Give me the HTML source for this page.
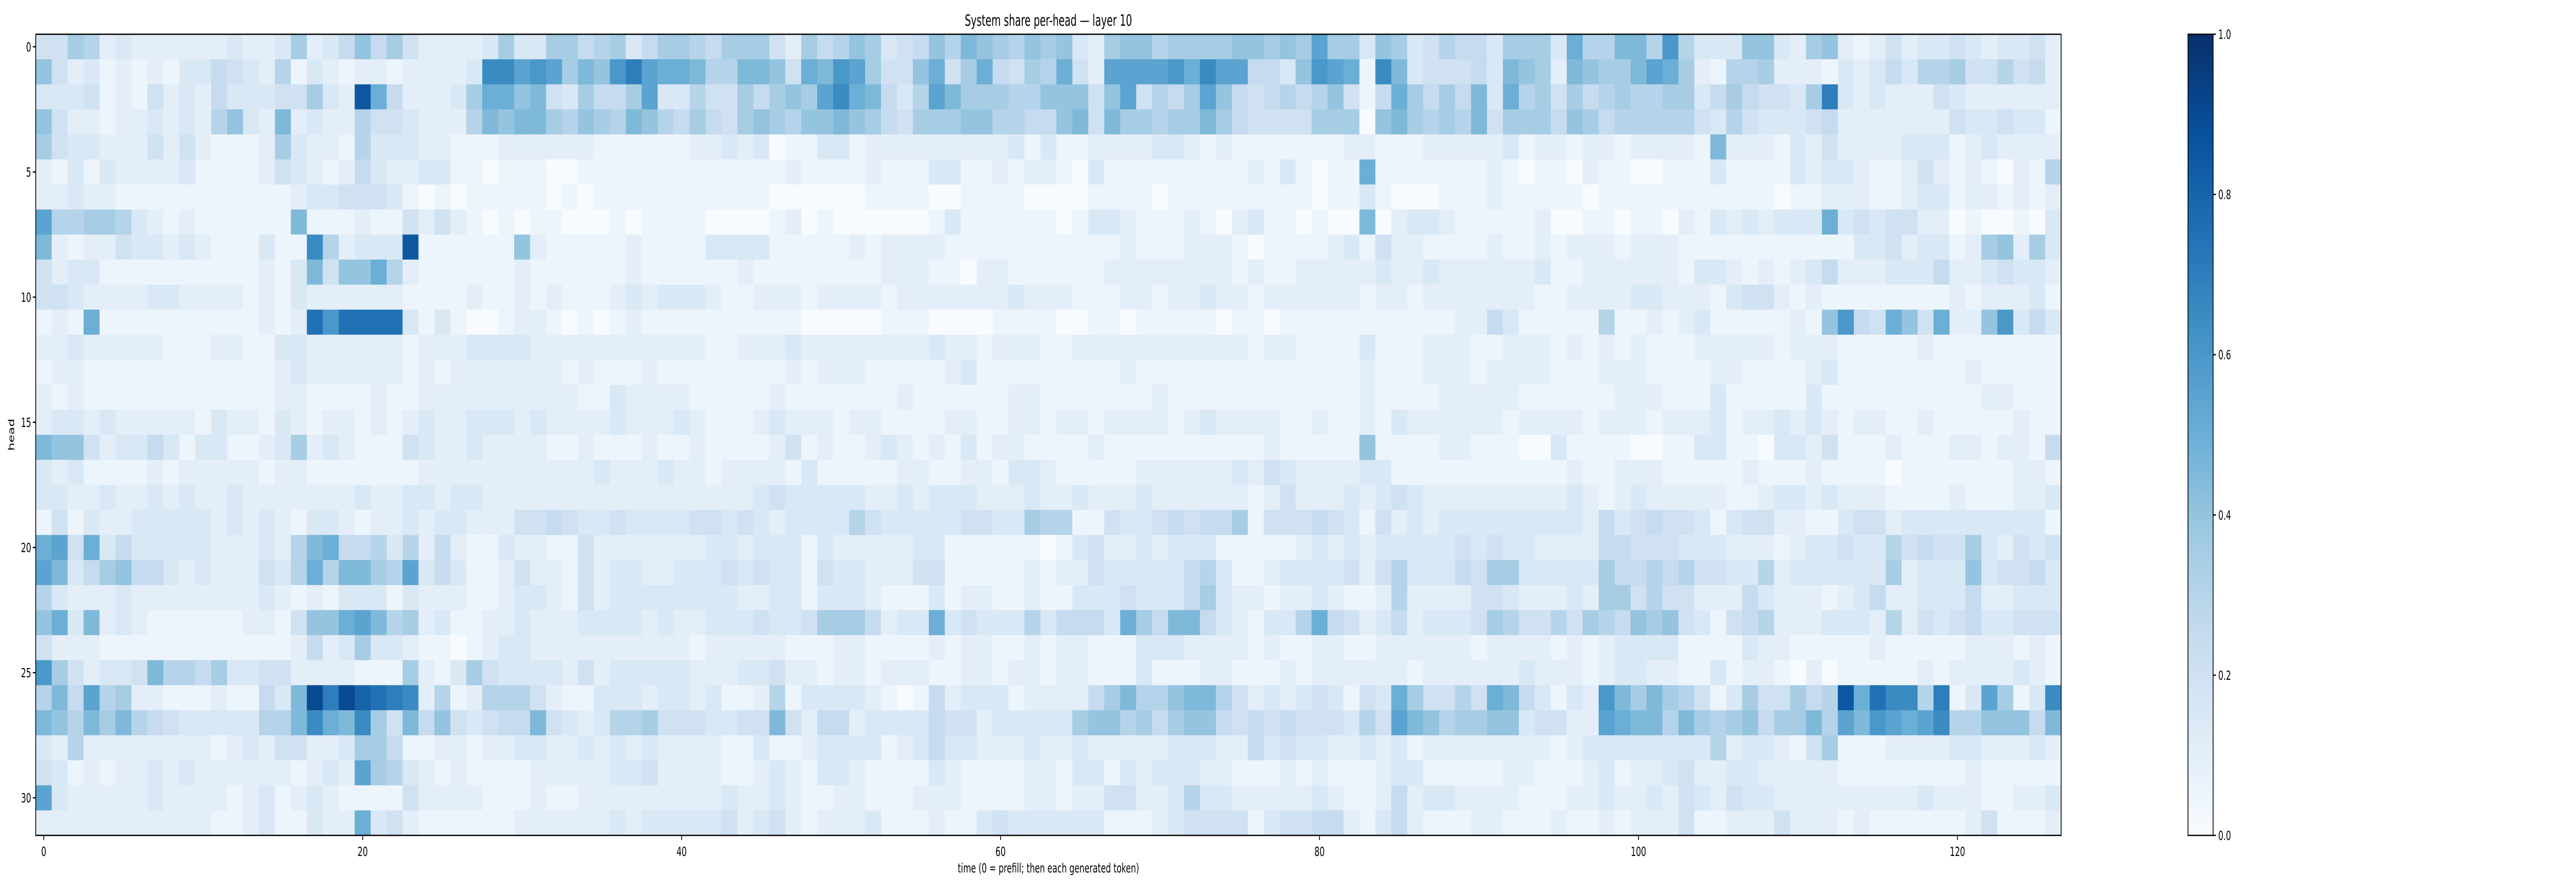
<!DOCTYPE html>
<html>
<head>
<meta charset="utf-8">
<style>
  html,body{margin:0;padding:0;background:#ffffff;width:100%;height:100%;overflow:hidden;}
  svg{display:block;width:100vw;height:100vh;}
  text{font-family:"DejaVu Sans","Liberation Sans",sans-serif;fill:#000;}
</style>
</head>
<body>
<svg id="chart" viewBox="0 0 8000 1728" preserveAspectRatio="none" xmlns="http://www.w3.org/2000/svg">
  <rect x="0" y="0" width="8000" height="1728" fill="#ffffff"/>
  <text x="3256" y="50" font-size="30" text-anchor="middle">System share per-head — layer 10</text>
  <text x="3256" y="1694" font-size="25" text-anchor="middle">time (0 = prefill; then each generated token)</text>
  <text x="0" y="0" font-size="25" text-anchor="middle" transform="translate(44,844) rotate(-90)">head</text>
  <g id="cells"></g>
  <g id="axes"></g>
  <defs>
    <linearGradient id="cbgrad" x1="0" y1="1" x2="0" y2="0">
      <stop offset="0" stop-color="#f7fbff"/>
      <stop offset="0.125" stop-color="#deebf7"/>
      <stop offset="0.25" stop-color="#c6dbef"/>
      <stop offset="0.375" stop-color="#9ecae1"/>
      <stop offset="0.5" stop-color="#6baed6"/>
      <stop offset="0.625" stop-color="#4292c6"/>
      <stop offset="0.75" stop-color="#2171b5"/>
      <stop offset="0.875" stop-color="#08519c"/>
      <stop offset="1" stop-color="#08306b"/>
    </linearGradient>
  </defs>
  <g id="colorbar"></g>
</svg>
<script>
// ---- data: each char = value step of 0.05 (0..k => 0..1.0) ----
const codeScale = "0123456789abcdefghijk";
const timeTicks = [0, 20, 40, 60, 80, 100, 120];
const headTicks = [0, 5, 10, 15, 20, 25, 30];
const cbarTicks = [0.0, 0.2, 0.4, 0.6, 0.8, 1.0];
const cbarLabels = ["0.0", "0.2", "0.4", "0.6", "0.8", "1.0"];
// columns 0-15
const colsA = ["4476232222223223","8423121213354326","3334121423253334","8422122323268329","7433222424211127","2131322223111124","2232211111111111","b667763212111111","9212243323211131","4233111111111121","4432222332222121","121a111111111121","2232222211122113","1221111111111112","2121111111111112","2332322222132213","9884233531331123","3231111212222212","3322322323223222","1413223333323232","ab4a353333322232","b935785532322243","6322232222222232","8a39232111111221","4222111111111111","c742334966573344","695b672211121153","9869796543333366","3262222222212324","4312122323222222","b322222322221231","2222222222211231"];
// columns 16-31
const colsB = ["7235857422223733","132122122223ddbc","4732ha522237aa89","2322644322269899","3221633322111222","3212532233110111","2334443101011111","9111211424210101","1d62333h11111182","39488a6211111121","3222222111121121","2fcffff313100122","3222222122233332","3222222121222222","2111121122222222","2122121232233323","7232111432232222","2111111122222222","2222322332332222","1332122323322244","69a5563625211322","6a69976b35311242","1213331322211233","488ab96723112232","2523733211012332","2222111721374333","9ieigfed26126664","9da9d74958434559","4223775112212233","1232b76321211112","2321111422221112","1322a34211111122"];
// columns 32-47
const colsC = ["7756735776577742","b798cebaa9669984","437557b336447578","7687698657547876","2221111112232301","0011111111111112","0101111111111100","1000101111000012","1111121111333311","1111121111112111","2111232333211222","1010121111111111","2222222222112223","2121112111111112","2211322221111121","2222322232111232","1121112112111124","2223222322122221","2222222222222343","5433433334434323","1142222222332333","2142332233343433","2142333333332233","2233332322333433","2222222221222221","3242333332223342","2113332332311261","4323667444334494","2232323222211311","2222334222211232","1122222222232232","2222323333342342"];
// columns 48-63
const colsD = ["7568734586987687","a9cb7448a47a5476","7bda9536b9777668","8898754777886655","1331222222222313","1111211133112122","0000111100111100","0100000013111111","1112122221111111","1111122211022111","1222212222222322","0000011100001111","2222222232212221","1222111112311111","1111112111111221","2212211112211221","1211232121312211","3111112211221332","3333223233322232","3336433333443376","1322222331111110","1433222441111121","1333211131221121","47775233a3433363","1122111121221121","2122122211221221","3333210152333122","2552333354423333","2333312353322232","1332111132111122","1122111222111122","1222311121134333"];
// columns 64-79
const colsE = ["8327886777788787","a42bbbbcadbb5538","8848b4657b854565","8949776779754444","1122223321211111","1031111111112131","0011110111111111","0133211121023110","1111211122210111","1112222222212112","2111221223221222","0011011111011011","1222222222221221","1111211111111111","1111112111111111","2212222123222211","1121111111111211","1111122222232432","2322232222221242","6114334545571444","1342232333111112","2243333356311233","1333433357322122","5553a75995321336","2211133322221211","2211131112211121","2257966899642323","3788675788545454","2322222333225343","1331323332211121","1224422363322222","3331112344441344"];
// columns 80-95
const colsF = ["b773873465537773","cba1d93444539872","68415a757593a674","7770897676947775","1122111222223122","011a111111121011","0113100011121111","1009023321111120","1231422111121121","2222322322222231","2221221222222211","1111111112253111","1113111222112221","1112111222122221","1112111122222111","2112132222221222","1118111122111003","2223311111111111","2232343222222222","5431423233333333","3232333334343322","3342463335477333","3211262222443222","a542352333476446","2211222222122221","2222221222222322","43143a74464a9531","44364b9867788344","3223231222222221","2111233111112211","3211252332222111","5521352111221112"];
// columns 96-111
const colsG = ["a66996c633388327","98779ba721667222","7567667735754437","8756666643643334","1221222219222132","0211001113111132","1011111111111011","0110110213232333","2221222111111111","1222222133212123","2222332221344212","1161121231111121","2121211122222122","1122211112211112","1112221113111113","2122212223122323","1111001133110332","2112221111121112","3212322222112332","3253454431344221","2255444333222123","3375565644336233","3277464422253222","4765878431456222","2123333111132211","2123322113122102","32c9797641374475","22ba996976785779","2333333336233214","1231223422332222","2232232432433222","1121222411222422"];
// columns 112-126
const colsH = ["821242334323342","132353667446452","e32322243222222","522222224334331","422223331232222","332112421210216","222112331221212","a34344220100103","113342331278273","522233352234332","111111112122231","8c54a84a228c353","211111211111111","311111111211111","111111111122111","212211211111211","411121112212215","111101111111221","322211112111223","134423333333331","343364544732434","333372333834453","123522333522333","333262434533444","111211111222121","011111212222321","6hafdd6e13b713d","6b9cbabd6688859","711122223322232","211111111211111","222222322211223","212111111241112"];

const chunkArrays = [colsA, colsB, colsC, colsD, colsE, colsF, colsG, colsH];
const chunkWidths = [16, 16, 16, 16, 16, 16, 16, 15];
const nHeads = 32, nTime = 127;

// ---- layout ----
const plotL = 111, plotR = 6401, plotT = 66.5, plotB = 1622;
const cw = (plotR - plotL) / nTime, ch = (plotB - plotT) / nHeads;
const xPos = t => plotL + t * cw;
const yPos = h => plotT + h * ch;
const cbL = 6795, cbR = 6873;
const cbY = v => plotB - v * (plotB - plotT);

const stops = [[0,[247,251,255]],[0.125,[222,235,247]],[0.25,[198,219,239]],[0.375,[158,202,225]],[0.5,[107,174,214]],[0.625,[66,146,198]],[0.75,[33,113,181]],[0.875,[8,81,156]],[1,[8,48,107]]];
function blues(v){
  v = Math.max(0, Math.min(1, v));
  for (let i = 1; i < stops.length; i++){
    if (v <= stops[i][0]){
      const a = stops[i-1], b = stops[i];
      const f = (v - a[0]) / (b[0] - a[0]);
      const c = a[1].map((x, k) => Math.round(x + (b[1][k] - x) * f));
      return "rgb(" + c.join(",") + ")";
    }
  }
  return "rgb(8,48,107)";
}

// build value matrix from chunk arrays
const values = [];
for (let h = 0; h < nHeads; h++){
  const row = [];
  chunkArrays.forEach((arr, ci) => {
    let s = (arr[h] || "");
    for (let j = 0; j < chunkWidths[ci]; j++){
      const idx = codeScale.indexOf(s.charAt(j) || "1");
      row.push((idx < 0 ? 1 : idx) * 0.05);
    }
  });
  values.push(row.slice(0, nTime));
}

const NS = "http://www.w3.org/2000/svg";
function mk(tag, attrs, parent){
  const e = document.createElementNS(NS, tag);
  for (const k in attrs) e.setAttribute(k, attrs[k]);
  parent.appendChild(e);
  return e;
}

// cells
const cellsG = document.getElementById("cells");
for (let h = 0; h < nHeads; h++){
  for (let t = 0; t < nTime; t++){
    const r = mk("rect", {x: xPos(t).toFixed(2), y: yPos(h).toFixed(2), width: (cw + 0.6).toFixed(2), height: (ch + 0.6).toFixed(2), fill: blues(values[h][t])}, cellsG);
    
    
  }
}

// axes
const axesG = document.getElementById("axes");
const frame = mk("rect", {x: plotL, y: plotT, width: plotR - plotL, height: plotB - plotT, fill: "none", stroke: "#000", "stroke-width": 2.5}, axesG);


timeTicks.forEach(t => {
  const x = xPos(t + 0.5);
  const tk = mk("line", {x1: x, y1: plotB, x2: x, y2: plotB + 9, stroke: "#000", "stroke-width": 2.5}, axesG);
  
  
  const lb = mk("text", {x: x, y: plotB + 40, "font-size": 25, "text-anchor": "middle"}, axesG);
  lb.textContent = String(t);
  
  
});
headTicks.forEach(h => {
  const y = yPos(h + 0.5);
  const tk = mk("line", {x1: plotL - 9, y1: y, x2: plotL, y2: y, stroke: "#000", "stroke-width": 2.5}, axesG);
  
  
  const lb = mk("text", {x: plotL - 14, y: y + 9, "font-size": 25, "text-anchor": "end"}, axesG);
  lb.textContent = String(h);
  
  
});

// colorbar
const cbG = document.getElementById("colorbar");
const cbRect = mk("rect", {x: cbL, y: plotT, width: cbR - cbL, height: plotB - plotT, fill: "url(#cbgrad)", stroke: "#000", "stroke-width": 2.5}, cbG);


cbarTicks.forEach((v, i) => {
  const y = cbY(v);
  const tk = mk("line", {x1: cbR, y1: y, x2: cbR + 9, y2: y, stroke: "#000", "stroke-width": 2.5}, cbG);
  
  
  const lb = mk("text", {x: cbR + 16, y: y + 9, "font-size": 25, "text-anchor": "start"}, cbG);
  lb.textContent = cbarLabels[i];
  
  
});
</script>
</body>
</html>
